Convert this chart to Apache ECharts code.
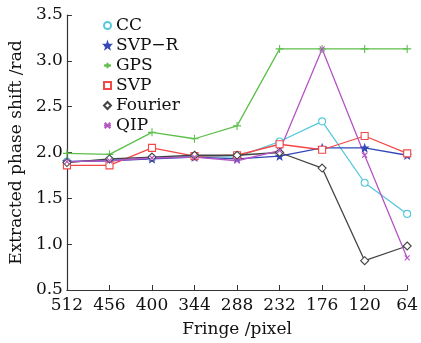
<!DOCTYPE html>
<html>
<head>
<meta charset="utf-8">
<script src="https://cdn.jsdelivr.net/npm/echarts@6/dist/echarts.min.js"></script>
<style>
  html, body { margin: 0; padding: 0; background: #fff; }
  #chart { width: 421px; height: 343px; }
</style>
</head>
<body>
<div id="chart"></div>
<script>
// fringe widths (pixel)
const fringes = ['512', '456', '400', '344', '288', '232', '176', '120', '64'];

// extracted phase shift (rad)
const cc      = [1.90, 1.92, 1.94, 1.96, 1.95, 2.12, 2.34, 1.67, 1.33];
const svpR    = [1.90, 1.91, 1.93, 1.95, 1.93, 1.96, 2.05, 2.05, 1.97];
const gps     = [1.99, 1.98, 2.22, 2.15, 2.29, 3.13, 3.13, 3.13, 3.13];
const svp     = [1.86, 1.86, 2.05, 1.96, 1.97, 2.09, 2.03, 2.18, 1.99];
const fourier = [1.89, 1.93, 1.95, 1.97, 1.97, 2.00, 1.83, 0.82, 0.98];
const qip     = [1.90, 1.91, 1.94, 1.95, 1.91, 2.02, 3.13, 1.97, 0.85];

const font = '"DejaVu Serif", "Liberation Serif", serif';

const chart = echarts.init(document.getElementById('chart'), null, { renderer: 'canvas' });

function line(name, data, color, symbol, size, fill) {
  return {
    name,
    type: 'line',
    data,
    symbol,
    symbolSize: size,
    lineStyle: { width: 1.3, color },
    itemStyle: { color: fill ? color : '#fff', borderColor: color, borderWidth: 1.1 },
    emphasis: { disabled: true },
  };
}

// asterisk-like star and plus / cross marks
const plusPath = 'path://M5,0 L5,10 M0,5 L10,5';
const crossPath = 'path://M0,0 L10,10 M10,0 L0,10';
const starPath = 'path://M5,0 L6.2,3.4 L9.8,3.4 L7,5.6 L8,9 L5,7 L2,9 L3,5.6 L0.2,3.4 L3.8,3.4 Z';

chart.setOption({
  animation: false,
  backgroundColor: '#fff',
  textStyle: { fontFamily: font },
  grid: { left: 62, right: 9, top: 15, bottom: 53 },
  legend: {
    orient: 'vertical',
    left: 98,
    top: 12,
    itemGap: 3,
    itemWidth: 7,
    itemHeight: 7,
    textStyle: { fontFamily: font, fontSize: 17, color: '#111' },
    data: [
      { name: 'CC', icon: 'circle' },
      { name: 'SVP\u2212R' },
      { name: 'GPS' },
      { name: 'SVP', icon: 'rect' },
      { name: 'Fourier', icon: 'diamond' },
      { name: 'QIP' },
    ],
  },
  xAxis: {
    type: 'category',
    data: fringes,
    boundaryGap: false,
    name: 'Fringe /pixel',
    nameLocation: 'middle',
    nameGap: 31,
    nameTextStyle: { fontFamily: font, fontSize: 17, color: '#111' },
    axisLine: { lineStyle: { color: '#333', width: 1.2 } },
    axisTick: { inside: true, length: 5, lineStyle: { color: '#333' } },
    axisLabel: { fontFamily: font, fontSize: 17, color: '#111', margin: 7 },
    splitLine: { show: false },
  },
  yAxis: {
    type: 'value',
    min: 0.5,
    max: 3.5,
    interval: 0.5,
    name: 'Extracted phase shift /rad',
    nameLocation: 'middle',
    nameGap: 37,
    nameTextStyle: { fontFamily: font, fontSize: 17, color: '#111' },
    axisLine: { show: true, lineStyle: { color: '#333', width: 1.2 } },
    axisTick: { show: true, inside: true, length: 5, lineStyle: { color: '#333' } },
    axisLabel: { fontFamily: font, fontSize: 17, color: '#111', margin: 4,
      formatter: (v) => v.toFixed(1) },
    splitLine: { show: false },
  },
  series: [
    line('CC', cc, '#55c8dc', 'circle', 7, false),
    line('SVP\u2212R', svpR, '#3347b8', starPath, 7, true),
    line('GPS', gps, '#5cc04a', plusPath, 8, false),
    line('SVP', svp, '#f24848', 'rect', 7, false),
    line('Fourier', fourier, '#444444', 'diamond', 8, false),
    line('QIP', qip, '#b554c4', crossPath, 5, false),
  ],
});
</script>
</body>
</html>
